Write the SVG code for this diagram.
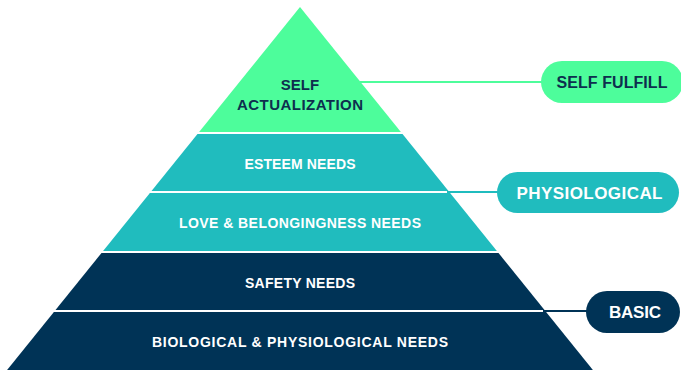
<svg xmlns="http://www.w3.org/2000/svg" width="681" height="370" viewBox="0 0 681 370">
<style>
text{font-family:"Liberation Sans",Arial,sans-serif;font-weight:bold;text-anchor:middle}
.g{fill:#4DFD9B}.t{fill:#20BCBE}.n{fill:#003356}
.dk{fill:#0E2F4E}.wt{fill:#ffffff}
.c{stroke-width:2;fill:none}
</style>
<rect width="681" height="370" fill="#ffffff"/>
<g id="connectors">
<line class="c" x1="360" y1="82" x2="545" y2="82" stroke="#4DFD9B"/>
<line class="c" x1="447" y1="192" x2="500" y2="192" stroke="#20BCBE"/>
<line class="c" x1="543" y1="311" x2="590" y2="311" stroke="#003356"/>
</g>
<g id="self-actualization">
<polygon class="g" points="300,7 400.9,132 199.1,132"/>
<text class="dk" x="300" y="90" font-size="15">SELF</text>
<text class="dk" x="300" y="110" font-size="15" textLength="126">ACTUALIZATION</text>
</g>
<g id="esteem">
<polygon class="t" points="197.5,134 402.5,134 448.5,191 151.5,191"/>
<text class="wt" x="300" y="169" font-size="14" textLength="111">ESTEEM NEEDS</text>
</g>
<g id="love">
<polygon class="t" points="149.9,193 450.1,193 496.9,251 103.1,251"/>
<text class="wt" x="300" y="228" font-size="14" textLength="242">LOVE &amp; BELONGINGNESS NEEDS</text>
</g>
<g id="safety">
<polygon class="n" points="101.5,253 498.5,253 544.5,310 55.5,310"/>
<text class="wt" x="300" y="288" font-size="14" textLength="110">SAFETY NEEDS</text>
</g>
<g id="biological">
<polygon class="n" points="53.9,312 546.1,312 592.9,370 7.1,370"/>
<text class="wt" x="300" y="347" font-size="14" textLength="296">BIOLOGICAL &amp; PHYSIOLOGICAL NEEDS</text>
</g>
<g id="self-fulfill">
<rect class="g" x="541" y="61" width="142" height="42" rx="21"/>
<text class="dk" x="612" y="88" font-size="16" textLength="111">SELF FULFILL</text>
</g>
<g id="physiological">
<rect class="t" x="497" y="172" width="182" height="41" rx="20.5"/>
<text class="wt" x="589.5" y="199" font-size="17" textLength="146">PHYSIOLOGICAL</text>
</g>
<g id="basic">
<rect class="n" x="586" y="291" width="94" height="42" rx="21"/>
<text class="wt" x="635" y="318" font-size="17" textLength="52">BASIC</text>
</g>
</svg>
